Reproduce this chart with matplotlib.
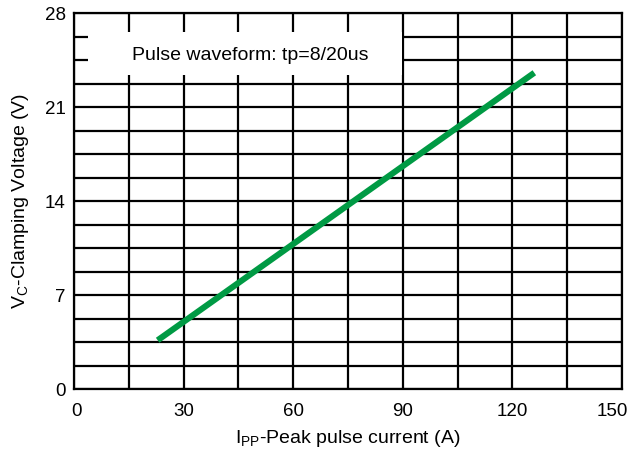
import matplotlib
matplotlib.use("Agg")
import matplotlib.pyplot as plt
import matplotlib.transforms as mtransforms
from matplotlib.patches import Rectangle
import numpy as np

plt.rcParams['font.family'] = ['Liberation Sans', 'DejaVu Sans']
plt.rcParams['mathtext.fontset'] = 'custom'
plt.rcParams['mathtext.rm'] = 'Liberation Sans'

# data
current = [22.9, 126.0]
voltage = [3.63, 23.55]
x_ticks = [0, 30, 60, 90, 120, 150]
y_ticks = [0, 7, 14, 21, 28]
x_minor = list(np.arange(0, 151, 15))
y_minor = list(np.arange(0, 28.01, 1.75))
note = "Pulse waveform: tp=8/20us"

fig = plt.figure(figsize=(6.3, 4.5), dpi=100)
ax = fig.add_axes([74/630, 1-389/450, (622-74)/630, (389-13)/450])
ax.set_xlim(0, 150)
ax.set_ylim(0, 28)
ax.set_xticks(x_ticks)
ax.set_yticks(y_ticks)
ax.set_xticks(x_minor, minor=True)
ax.set_yticks(y_minor, minor=True)
ax.tick_params(which='both', length=0, labelsize=13.5, colors='black')
ax.tick_params(axis='x', pad=10)
ax.tick_params(axis='y', pad=6)
ax.grid(which='both', color='black', linewidth=1.6, zorder=1)
for s in ax.spines.values():
    s.set_linewidth(1.6)
    s.set_zorder(3)
ax.set_axisbelow(True)

ax.add_patch(Rectangle((3.8, 23.4), 86.0, 3.2, facecolor='white', edgecolor='none', zorder=2))
ax.text(48.3, 24.86, note, ha='center', va='center', fontsize=14, zorder=4)

ax.plot(current, voltage, color='#009A44', linewidth=4.4, solid_capstyle='butt', zorder=5)

ax.set_xlabel(r'I$\mathregular{_{PP}}$-Peak pulse current (A)', fontsize=14, labelpad=6)
ax.set_ylabel(r'V$\mathregular{_{C}}$-Clamping Voltage (V)', fontsize=14, labelpad=10)

fig.canvas.draw()
labels = ax.get_xticklabels()
shift = mtransforms.ScaledTranslation(-10/100, 0, fig.dpi_scale_trans)
labels[-1].set_transform(labels[-1].get_transform() + shift)
shift0 = mtransforms.ScaledTranslation(3/100, 0, fig.dpi_scale_trans)
labels[0].set_transform(labels[0].get_transform() + shift0)

fig.savefig('out.png', dpi=100)
